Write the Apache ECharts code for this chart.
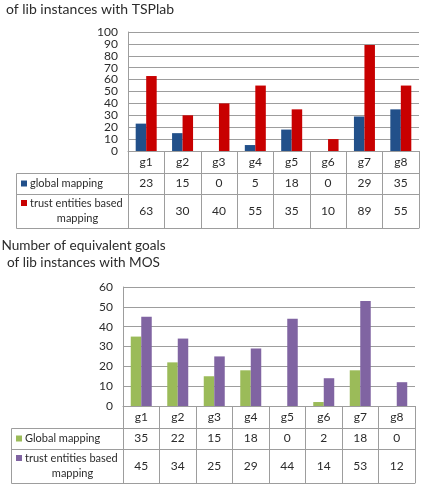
<!DOCTYPE html>
<html>
<head>
<meta charset="utf-8">
<script src="https://cdn.jsdelivr.net/npm/echarts@6/dist/echarts.min.js"></script>
<style>
  html, body { margin: 0; padding: 0; background: #fff; }
  #chart { width: 423px; height: 486px; }
</style>
</head>
<body>
<div id="chart"></div>
<script>
// data
const categories = ['g1', 'g2', 'g3', 'g4', 'g5', 'g6', 'g7', 'g8']
const tspGlobal = [23, 15, 0, 5, 18, 0, 29, 35]
const tspTrust = [63, 30, 40, 55, 35, 10, 89, 55]
const mosGlobal = [35, 22, 15, 18, 0, 2, 18, 0]
const mosTrust = [45, 34, 25, 29, 44, 14, 53, 12]
const tspTicks = { min: 0, max: 100, interval: 10 }
const mosTicks = { min: 0, max: 60, interval: 10 }

const FONT = 'Lato, "Open Sans", sans-serif'
const lineColor = '#9d9d9d'
const textColor = '#2b2b2b'
const colors = {
  tspGlobal: '#22508a',
  tspTrust: '#c80000',
  mosGlobal: '#9bbb59',
  mosTrust: '#8064a2'
}

// table rows under each plot: header / row 1 / row 2
const rowH = [22, 21, 34]

// builds the x axes that act as the data table under a grid
const tableAxes = (gridIndex, rows) => {
  const base = {
    type: 'category',
    gridIndex,
    data: categories,
    position: 'bottom',
    axisLine: { show: true, lineStyle: { color: lineColor, width: 1 } },
    axisTick: { show: true, interval: 0, lineStyle: { color: lineColor } },
    axisLabel: { interval: 0, color: textColor, fontFamily: FONT, fontSize: 12, lineHeight: 12 },
    splitLine: { show: false }
  }
  const axes = []
  axes.push(Object.assign({}, base, {
    offset: 0,
    axisTick: Object.assign({}, base.axisTick, { length: rowH[0] }),
    axisLabel: Object.assign({}, base.axisLabel, { margin: rowH[0] / 2 - 6 })
  }))
  let off = rowH[0]
  rows.forEach((vals, k) => {
    const h = rowH[k + 1]
    axes.push(Object.assign({}, base, {
      offset: off,
      axisTick: Object.assign({}, base.axisTick, { length: h }),
      axisLabel: Object.assign({}, base.axisLabel, {
        margin: h / 2 - 6,
        formatter: (v, i) => String(vals[i])
      })
    }))
    off += h
  })
  // closing line of the table
  axes.push(Object.assign({}, base, {
    offset: off,
    axisTick: { show: false },
    axisLabel: { show: false }
  }))
  return axes
}

const yAxisOf = (gridIndex, t) => ({
  type: 'value',
  gridIndex,
  min: t.min,
  max: t.max,
  interval: t.interval,
  axisLine: { show: true, lineStyle: { color: lineColor } },
  axisTick: { show: false },
  axisLabel: { color: textColor, fontFamily: FONT, fontSize: 12, margin: 10 },
  splitLine: { lineStyle: { color: lineColor, width: 1 } }
})

const barSeries = (name, data, color, xAxisIndex, yAxisIndex) => ({
  name,
  type: 'bar',
  data,
  xAxisIndex,
  yAxisIndex,
  barWidth: 10.5,
  barGap: '0%',
  itemStyle: { color },
  silent: true
})

// row header cells left of the tables
const rowHeaders = (left, tableTop, right, keys) => {
  const y1 = tableTop + rowH[0]
  const y2 = y1 + rowH[1]
  const y3 = y2 + rowH[2]
  const st = { stroke: lineColor, lineWidth: 1, fill: null }
  const font = '11px ' + FONT
  return [
    { type: 'rect', shape: { x: left + 0.5, y: y1 + 0.5, width: right - left, height: y3 - y1 }, style: st, silent: true },
    { type: 'line', shape: { x1: left, y1: y2 + 0.5, x2: right, y2: y2 + 0.5 }, style: { stroke: lineColor, lineWidth: 1 }, silent: true },
    { type: 'rect', shape: { x: left + 5, y: y1 + rowH[1] / 2 - 3, width: 6, height: 6 }, style: { fill: keys[0].color }, silent: true },
    { type: 'text', x: left + 14, y: y1 + rowH[1] / 2, style: { text: keys[0].name, font, fill: textColor, verticalAlign: 'middle' }, silent: true },
    { type: 'rect', shape: { x: left + 5, y: y2 + 6, width: 6, height: 6 }, style: { fill: keys[1].color }, silent: true },
    { type: 'text', x: left + 14, y: y2 + 9.5, style: { text: keys[1].name[0], font, fill: textColor, verticalAlign: 'middle' }, silent: true },
    { type: 'text', x: left + 61.5, y: y2 + 24, style: { text: keys[1].name[1], font, fill: textColor, align: 'center', verticalAlign: 'middle' }, silent: true }
  ]
}

const chart = echarts.init(document.getElementById('chart'))

const option = {
  animation: false,
  backgroundColor: '#fff',
  grid: [
    { left: 128, top: 32, right: 4, height: 119 },
    { left: 123, top: 287, right: 8, height: 119 }
  ],
  xAxis: [
    ...tableAxes(0, [tspGlobal, tspTrust]),
    ...tableAxes(1, [mosGlobal, mosTrust])
  ],
  yAxis: [yAxisOf(0, tspTicks), yAxisOf(1, mosTicks)],
  series: [
    barSeries('global mapping', tspGlobal, colors.tspGlobal, 0, 0),
    barSeries('trust entities based mapping', tspTrust, colors.tspTrust, 0, 0),
    barSeries('Global mapping', mosGlobal, colors.mosGlobal, 4, 1),
    barSeries('trust entities based mapping', mosTrust, colors.mosTrust, 4, 1)
  ],
  graphic: [
    { type: 'text', x: 6, y: 9, style: { text: 'of lib instances with TSPlab', font: '14px ' + FONT, fill: textColor, verticalAlign: 'middle' }, silent: true },
    { type: 'text', x: 83.5, y: 254.5, style: { text: 'Number of equivalent goals\nof lib instances with MOS', font: '13.6px ' + FONT, fill: textColor, align: 'center', verticalAlign: 'middle', lineHeight: 17 }, silent: true },
    ...rowHeaders(16, 151, 128, [
      { name: 'global mapping', color: colors.tspGlobal },
      { name: ['trust entities based', 'mapping'], color: colors.tspTrust }
    ]),
    ...rowHeaders(11, 406, 123, [
      { name: 'Global mapping', color: colors.mosGlobal },
      { name: ['trust entities based', 'mapping'], color: colors.mosTrust }
    ])
  ]
}

chart.setOption(option)
</script>
</body>
</html>
